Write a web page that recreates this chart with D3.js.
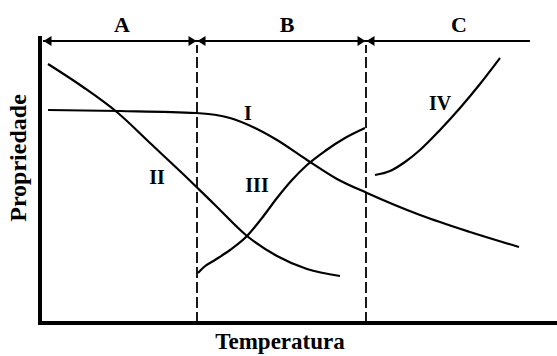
<!DOCTYPE html>
<html>
<head>
<meta charset="utf-8">
<script src="https://cdn.jsdelivr.net/npm/d3@7"></script>
<style>
  body { margin: 0; background: #fff; }
  text { font-family: "Liberation Serif", "Times New Roman", serif; font-weight: bold; fill: #000; }
</style>
</head>
<body>
<script>
var w = 557,
    h = 356;

// regions along the temperature axis
var regionNames = ["A", "B", "C"];
var regionBounds = [0.6, 31.4, 65.2, 98];
var regionLabelX = [16.4, 49.4, 83.8];

// curves (temperatura, propriedade)
var curveNames = ["I", "II", "III", "IV"];
var curveI = [[1.6,106.5],[16,106],[31.2,105],[38,102.5],[43,97.5],[47.4,91.5],[53.4,81.5],[59.4,72],[65.4,65],[76,54],[86,45.5],[95.8,38]];
var curveII = [[1.6,129.5],[8.6,118],[15.6,105],[22,90],[28.4,75],[34.8,59.5],[41.4,43.5],[47.4,33.5],[53.4,27],[60,23.5]];
var curveIII = [[31.6,25],[32.8,28],[35,31.5],[38,36.5],[41.4,43.5],[44.4,52.5],[47.4,62.5],[50.4,71.5],[53.4,79],[57,86],[61,92.5],[65,97.5]];
var curveIV = [[67,74],[70,76],[73,80.5],[76,86.5],[80,96.5],[84,107.5],[88,119.5],[92,132.5]];
var curveLabelX = [41.6, 23.4, 43.4, 80];
var curveLabelY = [105, 73, 69, 110];

var x = d3.scaleLinear().domain([0, 100]).range([40, 540]),
    y = d3.scaleLinear().domain([0, 140]).range([323, 43]);

var svg = d3.select("body").append("svg")
    .attr("width", w)
    .attr("height", h);

var line = d3.line()
    .x(function(d) { return x(d[0]); })
    .y(function(d) { return y(d[1]); })
    .curve(d3.curveMonotoneX);

// dashed boundaries
svg.selectAll("line.bound")
    .data(regionBounds.slice(1, 3))
    .enter().append("line")
    .attr("class", "bound")
    .attr("x1", function(d) { return x(d); })
    .attr("x2", function(d) { return x(d); })
    .attr("y1", y(0))
    .attr("y2", y(139))
    .attr("stroke", "#000")
    .attr("stroke-width", 1.8)
    .attr("stroke-dasharray", "11,4");

// curves
svg.selectAll("path.curve")
    .data([curveI, curveII, curveIII, curveIV])
    .enter().append("path")
    .attr("class", "curve")
    .attr("d", line)
    .attr("fill", "none")
    .attr("stroke", "#000")
    .attr("stroke-width", 2.2);

svg.selectAll("text.cname")
    .data(curveNames)
    .enter().append("text")
    .attr("class", "cname")
    .attr("x", function(d, i) { return x(curveLabelX[i]); })
    .attr("y", function(d, i) { return y(curveLabelY[i]); })
    .attr("dy", "0.35em")
    .attr("text-anchor", "middle")
    .attr("font-size", 20)
    .text(function(d) { return d; });

// region arrows on top
var ay = y(141);
svg.append("line")
    .attr("x1", x(regionBounds[0]))
    .attr("x2", x(regionBounds[3]))
    .attr("y1", ay)
    .attr("y2", ay)
    .attr("stroke", "#000")
    .attr("stroke-width", 2);

function arrowHead(px, dir) {
  // dir = -1 points left, 1 points right
  var len = 8, hw = 5;
  return "M" + px + "," + ay + "L" + (px - dir * len) + "," + (ay - hw) + "L" + (px - dir * len) + "," + (ay + hw) + "Z";
}

var heads = [[regionBounds[0], -1], [regionBounds[1], 1], [regionBounds[1], -1], [regionBounds[2], 1], [regionBounds[2], -1]];
svg.selectAll("path.head")
    .data(heads)
    .enter().append("path")
    .attr("class", "head")
    .attr("d", function(d) { return arrowHead(x(d[0]) + (d[1] > 0 ? -0.5 : 0.5), d[1]); })
    .attr("fill", "#000");

svg.selectAll("text.region")
    .data(regionNames)
    .enter().append("text")
    .attr("class", "region")
    .attr("x", function(d, i) { return x(regionLabelX[i]); })
    .attr("y", 32)
    .attr("text-anchor", "middle")
    .attr("font-size", 22)
    .text(function(d) { return d; });

// axes frame
svg.append("line")
    .attr("x1", x(0))
    .attr("x2", x(0))
    .attr("y1", y(143.5))
    .attr("y2", y(0) + 2)
    .attr("stroke", "#000")
    .attr("stroke-width", 4);

svg.append("line")
    .attr("x1", x(0) - 2)
    .attr("x2", w)
    .attr("y1", y(0))
    .attr("y2", y(0))
    .attr("stroke", "#000")
    .attr("stroke-width", 4);

svg.append("text")
    .attr("x", 280)
    .attr("y", 349)
    .attr("text-anchor", "middle")
    .attr("font-size", 23)
    .text("Temperatura");

svg.append("text")
    .attr("transform", "translate(26,158) rotate(-90)")
    .attr("text-anchor", "middle")
    .attr("font-size", 24)
    .text("Propriedade");
</script>
</body>
</html>
